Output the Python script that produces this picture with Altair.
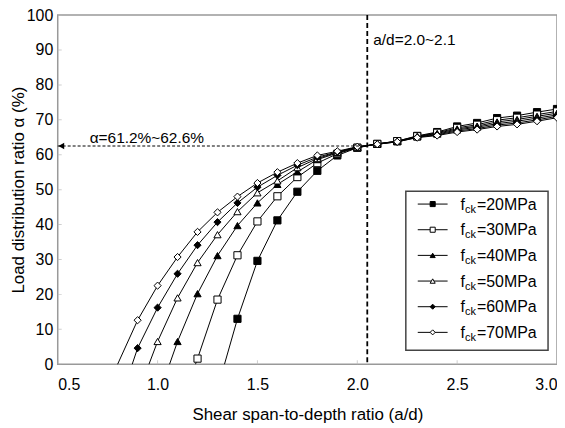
import altair as alt
import pandas as pd

FONT = "Liberation Sans"

series = ["20MPa", "30MPa", "40MPa", "50MPa", "60MPa", "70MPa"]
shapes = ["square", "square", "triangle-up", "triangle-up", "diamond", "diamond"]
fills = ["black", "white", "black", "white", "black", "white"]

# left branch (x, y) per series
f20_x = [1.4, 1.5, 1.6, 1.7, 1.8, 1.9, 2.0]
f20_y = [13.0, 29.6, 41.2, 49.4, 55.4, 59.8, 62.0]
f30_x = [1.2, 1.3, 1.4, 1.5, 1.6, 1.7, 1.8, 1.9, 2.0]
f30_y = [1.6, 18.5, 31.2, 40.9, 48.1, 53.6, 57.6, 60.3, 62.0]
f40_x = [1.1, 1.2, 1.3, 1.4, 1.5, 1.6, 1.7, 1.8, 1.9, 2.0]
f40_y = [6.5, 20.2, 31.1, 39.7, 46.2, 51.5, 55.1, 58.6, 60.5, 62.1]
f50_x = [1.0, 1.1, 1.2, 1.3, 1.4, 1.5, 1.6, 1.7, 1.8, 1.9, 2.0]
f50_y = [6.5, 19.0, 29.1, 37.1, 43.7, 49.1, 52.5, 56.3, 58.9, 60.7, 62.2]
f60_x = [0.9, 1.0, 1.1, 1.2, 1.3, 1.4, 1.5, 1.6, 1.7, 1.8, 1.9, 2.0]
f60_y = [4.6, 16.2, 25.9, 34.1, 40.7, 46.2, 50.7, 54.1, 57.0, 59.3, 60.8, 62.2]
f70_x = [0.9, 1.0, 1.1, 1.2, 1.3, 1.4, 1.5, 1.6, 1.7, 1.8, 1.9, 2.0]
f70_y = [12.6, 22.5, 30.7, 37.9, 43.5, 48.0, 51.9, 55.0, 57.6, 59.8, 61.0, 62.3]

# right branch
x_right = [2.1, 2.2, 2.3, 2.4, 2.5, 2.6, 2.7, 2.8, 2.9, 3.0]
f20_r = [63.1, 63.9, 65.4, 66.5, 68.1, 69.1, 70.5, 71.2, 72.2, 73.1]
f30_r = [63.1, 63.9, 65.3, 66.3, 67.7, 68.6, 69.9, 70.6, 71.5, 72.4]
f40_r = [63.1, 63.8, 65.2, 66.1, 67.4, 68.2, 69.4, 70.1, 71.0, 71.9]
f50_r = [63.1, 63.8, 65.1, 65.9, 67.1, 67.9, 68.9, 69.6, 70.5, 71.4]
f60_r = [63.0, 63.7, 65.0, 65.7, 66.8, 67.5, 68.5, 69.1, 70.0, 71.0]
f70_r = [63.0, 63.7, 64.9, 65.5, 66.5, 67.2, 68.1, 68.7, 69.6, 70.6]

# where each curve meets alpha = 0 (line continues without marker)
zero_cross = [1.335, 1.19, 1.06, 0.957, 0.873, 0.80]

x_ticks = [0.5, 1.0, 1.5, 2.0, 2.5, 3.0]
y_ticks = [0, 10, 20, 30, 40, 50, 60, 70, 80, 90, 100]

ad_line = [2.05]
alpha_line = [62.5]
ann_alpha = ["α=61.2%~62.6%"]
ann_alpha_pos = [0.66, 63.3]
ann_ad = ["a/d=2.0~2.1"]
ann_ad_pos = [2.08, 91.3]

lefts = [(f20_x, f20_y), (f30_x, f30_y), (f40_x, f40_y), (f50_x, f50_y), (f60_x, f60_y), (f70_x, f70_y)]
rights = [f20_r, f30_r, f40_r, f50_r, f60_r, f70_r]

rows = []
for s, (lx, ly), rr, zc in zip(series, lefts, rights, zero_cross):
    rows.append({"series": s, "x": zc, "y": 0.0, "marker": False})
    for a, b in zip(lx, ly):
        rows.append({"series": s, "x": a, "y": b, "marker": True})
    for a, b in zip(x_right, rr):
        rows.append({"series": s, "x": a, "y": b, "marker": True})
df = pd.DataFrame(rows)

W, H = 502, 351
xs = alt.Scale(domain=[0.5, 3.0], nice=False, zero=False)
ys = alt.Scale(domain=[0, 100], nice=False)

X = alt.X("x:Q", scale=xs, axis=alt.Axis(values=x_ticks, format=".1f", title="Shear span-to-depth ratio (a/d)",
                                         grid=False, ticks=False, domain=False, labelPadding=12,
                                         titlePadding=15, labelOverlap=False))
Y = alt.Y("y:Q", scale=ys, axis=alt.Axis(values=y_ticks, title="Load distribution ratio α (%)",
                                         grid=False, ticks=False, domain=False, labelPadding=5,
                                         labelOverlap=False, titleX=-30, titleY=H / 2,
                                         titleBaseline="bottom"))

base = alt.Chart(df)

ytick = alt.Chart(pd.DataFrame({"y": y_ticks, "x": [0.5] * len(y_ticks)})).mark_tick(
    orient="horizontal", size=8, thickness=1, color="#bbbbbb", clip=True
).encode(x=X, y=Y)
xtick = alt.Chart(pd.DataFrame({"x": x_ticks, "y": [0] * len(x_ticks)})).mark_tick(
    orient="vertical", size=8, thickness=1, color="#bbbbbb", clip=True
).encode(x=X, y=Y)

lines = base.mark_line(color="black", strokeWidth=1).encode(
    x=X, y=Y, detail="series:N", order="x:Q",
)

points = base.transform_filter("datum.marker").mark_point(size=52, stroke="black", strokeWidth=1, opacity=1).encode(
    x=X, y=Y,
    shape=alt.Shape("series:N", scale=alt.Scale(domain=series, range=shapes), legend=None),
    fill=alt.Fill("series:N", scale=alt.Scale(domain=series, range=fills), legend=None),
)

vline = alt.Chart(pd.DataFrame({"x": ad_line})).mark_rule(
    color="black", strokeWidth=1.8, strokeDash=[5, 3]
).encode(x=X)

hline = alt.Chart(pd.DataFrame({"y": alpha_line, "x": [0.5], "x1": ad_line})).mark_rule(
    color="black", strokeWidth=1, strokeDash=[3, 2]
).encode(y=Y, x=X, x2="x1:Q")

arrow = alt.Chart(pd.DataFrame({"y": alpha_line, "x": [0.518]})).mark_point(
    shape="triangle-left", size=45, filled=True, color="black", opacity=1
).encode(x=X, y=Y)

t_alpha = alt.Chart(pd.DataFrame({"t": ann_alpha, "x": [ann_alpha_pos[0]], "y": [ann_alpha_pos[1]]})).mark_text(
    align="left", baseline="alphabetic", font=FONT, fontSize=15.5, color="black"
).encode(x=X, y=Y, text="t:N")

t_ad = alt.Chart(pd.DataFrame({"t": ann_ad, "x": [ann_ad_pos[0]], "y": [ann_ad_pos[1]]})).mark_text(
    align="left", baseline="alphabetic", font=FONT, fontSize=15.5, color="black"
).encode(x=X, y=Y, text="t:N")

# custom legend (pixel layout inside plot area)
leg = pd.DataFrame({"series": series, "i": list(range(len(series))),
                    "val": [s for s in series]})
leg_box = alt.Chart(pd.DataFrame({"a": [0]})).mark_rect(
    fill="white", stroke="#444444", strokeWidth=1.5
).encode(x=alt.value(350), x2=alt.value(493), y=alt.value(177), y2=alt.value(337))

lb = alt.Chart(leg).transform_calculate(py="190 + datum.i * 25.8")
leg_line = lb.mark_rule(color="black", strokeWidth=1).encode(
    x=alt.value(362), x2=alt.value(392), y=alt.Y("py:Q", scale=None)
)
leg_pt = lb.mark_point(size=26, stroke="black", strokeWidth=1, opacity=1).encode(
    x=alt.value(377), y=alt.Y("py:Q", scale=None),
    shape=alt.Shape("series:N", scale=alt.Scale(domain=series, range=shapes), legend=None),
    fill=alt.Fill("series:N", scale=alt.Scale(domain=series, range=fills), legend=None),
)
leg_f = lb.transform_calculate(t="'f'", pyb="datum.py + 5.5").mark_text(
    align="left", baseline="alphabetic", font=FONT, fontSize=16, color="black"
).encode(x=alt.value(405), y=alt.Y("pyb:Q", scale=None), text="t:N")
leg_ck = lb.transform_calculate(t="'ck'", pyb="datum.py + 8.5").mark_text(
    align="left", baseline="alphabetic", font=FONT, fontSize=11, color="black"
).encode(x=alt.value(409.5), y=alt.Y("pyb:Q", scale=None), text="t:N")
leg_v = lb.transform_calculate(t="'=' + datum.val", pyb="datum.py + 5.5").mark_text(
    align="left", baseline="alphabetic", font=FONT, fontSize=16, color="black"
).encode(x=alt.value(421.5), y=alt.Y("pyb:Q", scale=None), text="t:N")

chart = alt.layer(
    ytick, xtick, lines, points, hline, vline, arrow, t_alpha, t_ad,
    leg_box, leg_line, leg_pt, leg_f, leg_ck, leg_v
).properties(
    width=W, height=H,
    autosize=alt.AutoSizeParams(type="none"),
    padding={"left": 50, "top": 6, "right": 0, "bottom": 60},
).configure_view(
    stroke="#999999", strokeWidth=1.5
).configure_axis(
    labelFont=FONT, titleFont=FONT, labelFontSize=16, titleFontSize=17,
    labelColor="black", titleColor="black", titleFontWeight="normal"
)

chart.save("out.html", embed_options={"renderer": "svg", "actions": False})
